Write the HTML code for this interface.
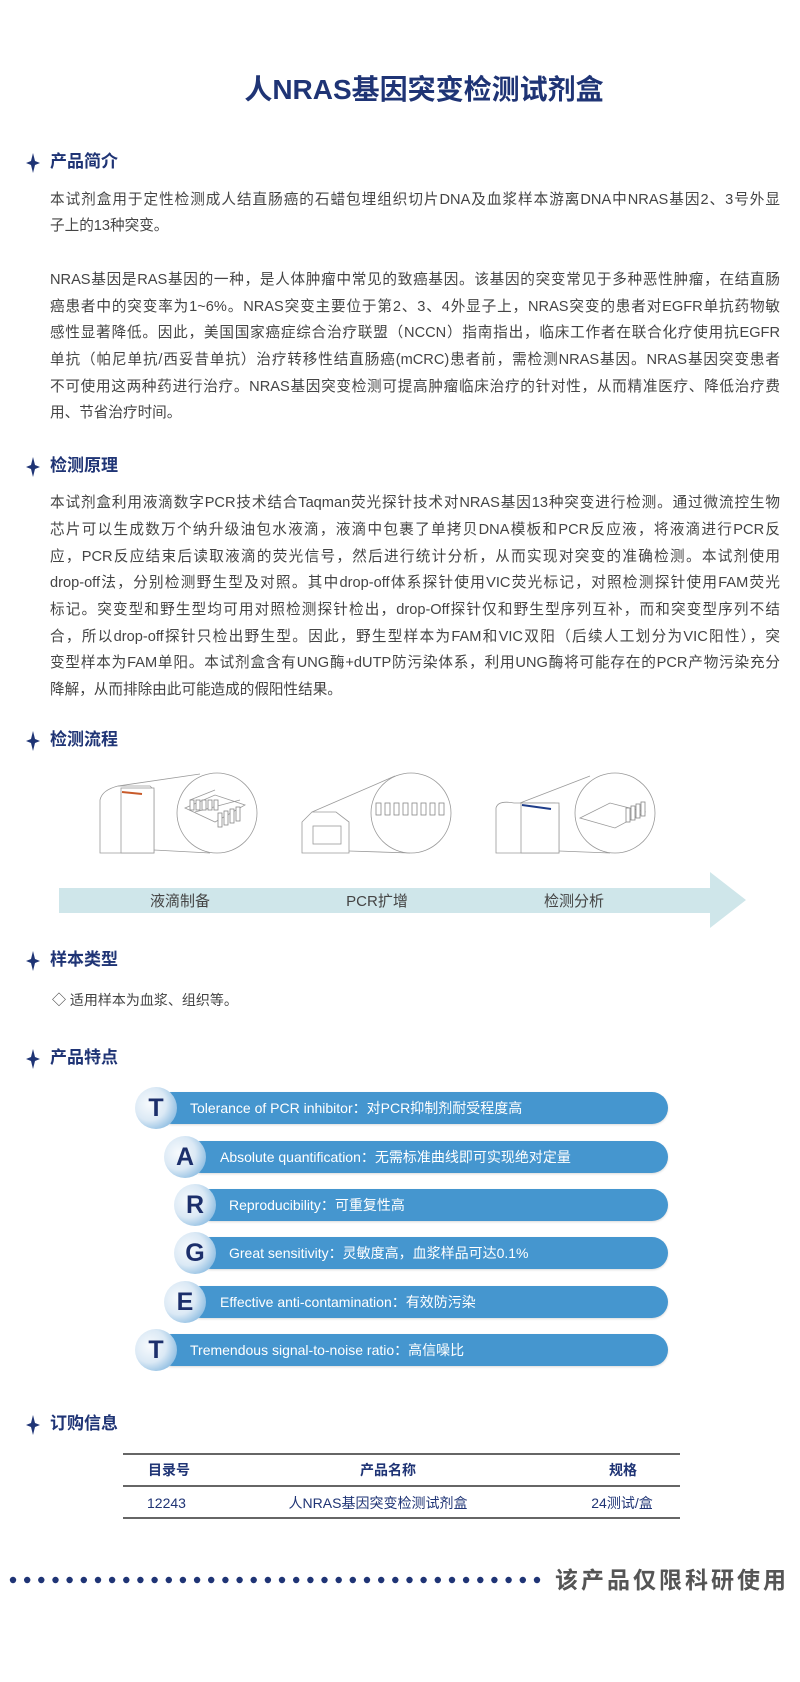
<!DOCTYPE html>
<html><head><meta charset="utf-8">
<style>
*{margin:0;padding:0;box-sizing:border-box}
body{width:800px;height:1682px;background:#fff;position:relative;overflow:hidden;font-family:"Liberation Sans","Noto Sans CJK SC",sans-serif;color:#444}
.a{position:absolute}
.title{left:0;width:848px;top:72px;text-align:center;font-size:28px;font-weight:bold;color:#1f3475;line-height:36px}
.h{left:26px;font-size:17px;font-weight:bold;color:#1f3475;line-height:24px;height:24px}
.h svg{position:absolute;left:0;top:3px}
.h span{position:absolute;left:24px;top:0;white-space:nowrap}
.l{left:50px;width:730px;height:26px;line-height:26px;font-size:14.6px;text-align:justify;text-align-last:justify;white-space:nowrap;color:#444}
.l.e{text-align-last:left}
.pill{position:absolute;height:32px;border-radius:16px;background:#4596cf;color:#fff;font-size:14px;line-height:32px;box-shadow:0 1px 2px rgba(0,0,0,.15)}
.circ{position:absolute;width:42px;height:42px;border-radius:50%;background:radial-gradient(circle at 35% 40%,#f7fafd 0%,#dbe9f5 45%,#7fb5de 85%,#5a9fd4 100%);color:#1c2f6b;font-weight:bold;font-size:25px;text-align:center;line-height:42px}
.pt{position:absolute;color:#fff;font-size:14px;white-space:nowrap;line-height:20px}
</style></head><body>
<div class="a title">人NRAS基因突变检测试剂盒</div>

<div class="a h" style="top:150px"><svg width="14" height="20" viewBox="0 0 14 20"><path d="M7 0 L9 8 L14 10 L9 12 L7 20 L5 12 L0 10 L5 8Z" fill="#1f3475"/></svg><span>产品简介</span></div>
<div class="a l" style="top:187px">本试剂盒用于定性检测成人结直肠癌的石蜡包埋组织切片DNA及血浆样本游离DNA中NRAS基因2、3号外显</div>
<div class="a l e" style="top:213px">子上的13种突变。</div>
<div class="a l" style="top:267px">NRAS基因是RAS基因的一种，是人体肿瘤中常见的致癌基因。该基因的突变常见于多种恶性肿瘤，在结直肠</div>
<div class="a l" style="top:294px">癌患者中的突变率为1~6%。NRAS突变主要位于第2、3、4外显子上，NRAS突变的患者对EGFR单抗药物敏</div>
<div class="a l" style="top:320px">感性显著降低。因此，美国国家癌症综合治疗联盟（NCCN）指南指出，临床工作者在联合化疗使用抗EGFR</div>
<div class="a l" style="top:347px">单抗（帕尼单抗/西妥昔单抗）治疗转移性结直肠癌(mCRC)患者前，需检测NRAS基因。NRAS基因突变患者</div>
<div class="a l" style="top:374px">不可使用这两种药进行治疗。NRAS基因突变检测可提高肿瘤临床治疗的针对性，从而精准医疗、降低治疗费</div>
<div class="a l e" style="top:400px">用、节省治疗时间。</div>

<div class="a h" style="top:454px"><svg width="14" height="20" viewBox="0 0 14 20"><path d="M7 0 L9 8 L14 10 L9 12 L7 20 L5 12 L0 10 L5 8Z" fill="#1f3475"/></svg><span>检测原理</span></div>
<div class="a l" style="top:490px">本试剂盒利用液滴数字PCR技术结合Taqman荧光探针技术对NRAS基因13种突变进行检测。通过微流控生物</div>
<div class="a l" style="top:517px">芯片可以生成数万个纳升级油包水液滴，液滴中包裹了单拷贝DNA模板和PCR反应液，将液滴进行PCR反</div>
<div class="a l" style="top:544px">应，PCR反应结束后读取液滴的荧光信号，然后进行统计分析，从而实现对突变的准确检测。本试剂使用</div>
<div class="a l" style="top:570px">drop-off法，分别检测野生型及对照。其中drop-off体系探针使用VIC荧光标记，对照检测探针使用FAM荧光</div>
<div class="a l" style="top:597px">标记。突变型和野生型均可用对照检测探针检出，drop-Off探针仅和野生型序列互补，而和突变型序列不结</div>
<div class="a l" style="top:624px">合，所以drop-off探针只检出野生型。因此，野生型样本为FAM和VIC双阳（后续人工划分为VIC阳性），突</div>
<div class="a l" style="top:650px">变型样本为FAM单阳。本试剂盒含有UNG酶+dUTP防污染体系，利用UNG酶将可能存在的PCR产物污染充分</div>
<div class="a l e" style="top:677px">降解，从而排除由此可能造成的假阳性结果。</div>

<div class="a h" style="top:728px"><svg width="14" height="20" viewBox="0 0 14 20"><path d="M7 0 L9 8 L14 10 L9 12 L7 20 L5 12 L0 10 L5 8Z" fill="#1f3475"/></svg><span>检测流程</span></div>

<svg class="a" style="left:0;top:760px" width="800" height="180" viewBox="0 760 800 180">
<g fill="#fff" stroke="#9a9a9a" stroke-width="0.8">
<!-- machine 1 -->
<path d="M100 853 L100 800 Q102 790 118 786 L150 786 L154 790 L154 853 Z"/>
<rect x="121" y="788" width="33" height="65"/>
<line x1="118" y1="786" x2="200" y2="774"/><line x1="154" y1="850" x2="210" y2="853"/>
<circle cx="217" cy="813" r="40"/>
<path d="M185 808 L215 795 L245 805 L215 822 Z"/>
<path d="M190 800 L215 790 M195 812 L240 800"/>
<!-- machine 2 -->
<path d="M302 822 L312 812 L336 812 L349 822 L349 853 L302 853 Z"/>
<rect x="313" y="826" width="28" height="18"/>
<line x1="312" y1="812" x2="395" y2="776"/><line x1="349" y1="851" x2="410" y2="853"/>
<circle cx="411" cy="813" r="40"/>
<!-- machine 3 -->
<path d="M496 853 L496 808 Q498 800 514 803 L555 803 L559 806 L559 853 Z"/>
<rect x="521" y="803" width="38" height="50"/>
<line x1="520" y1="803" x2="590" y2="776"/><line x1="559" y1="851" x2="610" y2="853"/>
<circle cx="615" cy="813" r="40"/>
<path d="M580 818 L610 803 L645 812 L615 828 Z"/>
</g>
<g stroke="#888" stroke-width="0.8" fill="#fff">
<rect x="190" y="800" width="4" height="10"/><rect x="196" y="800" width="4" height="10"/><rect x="202" y="800" width="4" height="10"/><rect x="208" y="800" width="4" height="10"/><rect x="214" y="800" width="4" height="10"/>
<rect x="218" y="813" width="4" height="14"/><rect x="224" y="811" width="4" height="14"/><rect x="230" y="809" width="4" height="14"/><rect x="236" y="807" width="4" height="14"/>
<rect x="376" y="803" width="5" height="12"/><rect x="385" y="803" width="5" height="12"/><rect x="394" y="803" width="5" height="12"/><rect x="403" y="803" width="5" height="12"/><rect x="412" y="803" width="5" height="12"/><rect x="421" y="803" width="5" height="12"/><rect x="430" y="803" width="5" height="12"/><rect x="439" y="803" width="5" height="12"/>
<rect x="626" y="808" width="4" height="14"/><rect x="631" y="806" width="4" height="14"/><rect x="636" y="804" width="4" height="14"/><rect x="641" y="802" width="4" height="14"/>
</g>
<line x1="122" y1="792" x2="142" y2="794" stroke="#c85a2a" stroke-width="2"/>
<line x1="522" y1="805" x2="551" y2="809" stroke="#1f3d8a" stroke-width="2"/>
<path d="M59 888 L710 888 L710 872 L746 900 L710 928 L710 913 L59 913 Z" fill="#cfe6ea"/>
<text x="180" y="906" font-size="15" fill="#444" text-anchor="middle" font-family="Liberation Sans, Noto Sans CJK SC, sans-serif">液滴制备</text>
<text x="377" y="906" font-size="15" fill="#444" text-anchor="middle" font-family="Liberation Sans, Noto Sans CJK SC, sans-serif">PCR扩增</text>
<text x="574" y="906" font-size="15" fill="#444" text-anchor="middle" font-family="Liberation Sans, Noto Sans CJK SC, sans-serif">检测分析</text>
</svg>

<div class="a h" style="top:948px"><svg width="14" height="20" viewBox="0 0 14 20"><path d="M7 0 L9 8 L14 10 L9 12 L7 20 L5 12 L0 10 L5 8Z" fill="#1f3475"/></svg><span>样本类型</span></div>
<div class="a" style="left:52px;top:990px;font-size:14px;line-height:20px;color:#444">◇ 适用样本为血浆、组织等。</div>

<div class="a h" style="top:1046px"><svg width="14" height="20" viewBox="0 0 14 20"><path d="M7 0 L9 8 L14 10 L9 12 L7 20 L5 12 L0 10 L5 8Z" fill="#1f3475"/></svg><span>产品特点</span></div>

<div class="pill" style="left:156px;top:1092px;width:512px"></div><div class="circ" style="left:135px;top:1087px">T</div><div class="pt" style="left:190px;top:1098px">Tolerance of PCR inhibitor：对PCR抑制剂耐受程度高</div>
<div class="pill" style="left:185px;top:1141px;width:483px"></div><div class="circ" style="left:164px;top:1136px">A</div><div class="pt" style="left:220px;top:1147px">Absolute quantification：无需标准曲线即可实现绝对定量</div>
<div class="pill" style="left:195px;top:1189px;width:473px"></div><div class="circ" style="left:174px;top:1184px">R</div><div class="pt" style="left:229px;top:1195px">Reproducibility：可重复性高</div>
<div class="pill" style="left:195px;top:1237px;width:473px"></div><div class="circ" style="left:174px;top:1232px">G</div><div class="pt" style="left:229px;top:1243px">Great sensitivity：灵敏度高，血浆样品可达0.1%</div>
<div class="pill" style="left:185px;top:1286px;width:483px"></div><div class="circ" style="left:164px;top:1281px">E</div><div class="pt" style="left:220px;top:1292px">Effective anti-contamination：有效防污染</div>
<div class="pill" style="left:156px;top:1334px;width:512px"></div><div class="circ" style="left:135px;top:1329px">T</div><div class="pt" style="left:190px;top:1340px">Tremendous signal-to-noise ratio：高信噪比</div>

<div class="a h" style="top:1412px"><svg width="14" height="20" viewBox="0 0 14 20"><path d="M7 0 L9 8 L14 10 L9 12 L7 20 L5 12 L0 10 L5 8Z" fill="#1f3475"/></svg><span>订购信息</span></div>
<div class="a" style="left:123px;top:1453px;width:557px;height:2px;background:#666"></div>
<div class="a" style="left:123px;top:1485px;width:557px;height:1.5px;background:#666"></div>
<div class="a" style="left:123px;top:1517px;width:557px;height:1.5px;background:#666"></div>
<div class="a" style="left:129px;top:1460px;width:80px;text-align:center;font-size:14px;font-weight:bold;color:#1f3475;line-height:20px">目录号</div>
<div class="a" style="left:328px;top:1460px;width:120px;text-align:center;font-size:14px;font-weight:bold;color:#1f3475;line-height:20px">产品名称</div>
<div class="a" style="left:583px;top:1460px;width:80px;text-align:center;font-size:14px;font-weight:bold;color:#1f3475;line-height:20px">规格</div>
<div class="a" style="left:147px;top:1493px;font-size:14px;color:#1f3475;line-height:20px">12243</div>
<div class="a" style="left:278px;top:1493px;width:200px;text-align:center;font-size:14px;color:#1f3475;line-height:20px">人NRAS基因突变检测试剂盒</div>
<div class="a" style="left:572px;top:1493px;width:100px;text-align:center;font-size:14px;color:#1f3475;line-height:20px">24测试/盒</div>

<svg class="a" style="left:0;top:1570px" width="560" height="20">
<g fill="#1f3475">
<circle cx="13" cy="10" r="3.2"/><circle cx="27.2" cy="10" r="3.2"/><circle cx="41.3" cy="10" r="3.2"/><circle cx="55.5" cy="10" r="3.2"/><circle cx="69.6" cy="10" r="3.2"/><circle cx="83.8" cy="10" r="3.2"/><circle cx="98" cy="10" r="3.2"/><circle cx="112.1" cy="10" r="3.2"/><circle cx="126.3" cy="10" r="3.2"/><circle cx="140.4" cy="10" r="3.2"/><circle cx="154.6" cy="10" r="3.2"/><circle cx="168.8" cy="10" r="3.2"/><circle cx="182.9" cy="10" r="3.2"/><circle cx="197.1" cy="10" r="3.2"/><circle cx="211.2" cy="10" r="3.2"/><circle cx="225.4" cy="10" r="3.2"/><circle cx="239.6" cy="10" r="3.2"/><circle cx="253.7" cy="10" r="3.2"/><circle cx="267.9" cy="10" r="3.2"/><circle cx="282" cy="10" r="3.2"/><circle cx="296.2" cy="10" r="3.2"/><circle cx="310.4" cy="10" r="3.2"/><circle cx="324.5" cy="10" r="3.2"/><circle cx="338.7" cy="10" r="3.2"/><circle cx="352.8" cy="10" r="3.2"/><circle cx="367" cy="10" r="3.2"/><circle cx="381.2" cy="10" r="3.2"/><circle cx="395.3" cy="10" r="3.2"/><circle cx="409.5" cy="10" r="3.2"/><circle cx="423.6" cy="10" r="3.2"/><circle cx="437.8" cy="10" r="3.2"/><circle cx="452" cy="10" r="3.2"/><circle cx="466.1" cy="10" r="3.2"/><circle cx="480.3" cy="10" r="3.2"/><circle cx="494.4" cy="10" r="3.2"/><circle cx="508.6" cy="10" r="3.2"/><circle cx="522.8" cy="10" r="3.2"/><circle cx="537" cy="10" r="3.2"/>
</g></svg>
<div class="a" style="left:555px;top:1565px;font-size:23px;font-weight:bold;color:#555;letter-spacing:3px;line-height:30px;white-space:nowrap">该产品仅限科研使用</div>
</body></html>
